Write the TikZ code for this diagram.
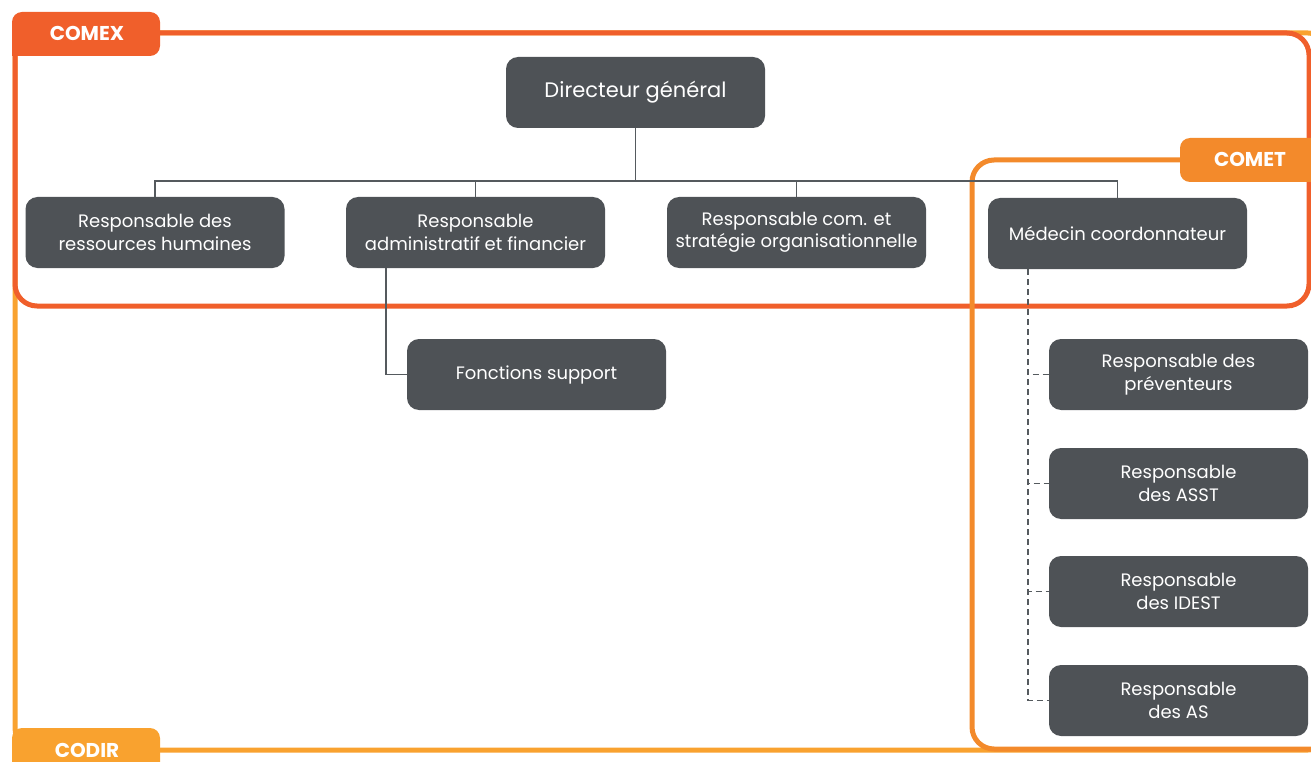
\documentclass[tikz,border=0pt]{standalone}
\usepackage{fontspec}
\setmainfont{Poppins}
\definecolor{nodegray}{HTML}{4E5256}
\definecolor{linegray}{HTML}{555A5E}
\definecolor{comexc}{HTML}{F05F2B}
\definecolor{cometc}{HTML}{F38A2B}
\definecolor{codirc}{HTML}{F9A22F}
\tikzset{
  orgbox/.style={fill=nodegray, rounded corners=12pt, minimum width=259pt, minimum height=71pt,
    inner sep=0pt, text=white, align=center, font=\fontsize{18}{22.5}\selectfont},
  conn/.style={draw=linegray, line width=1.6pt},
  dconn/.style={draw=linegray, line width=1.6pt, dash pattern=on 6pt off 4pt},
  frame/.style={line width=5pt, rounded corners=22pt},
  tablabel/.style={text=white, anchor=base, inner sep=0pt, font=\fontsize{20}{24}\selectfont\bfseries}
}
\begin{document}
\begin{tikzpicture}[x=1pt,y=-1pt]
\useasboundingbox (0,0) rectangle (1311,762);
\clip (0,0) rectangle (1311,762);
% CODIR frame
\draw[frame, draw=codirc] (15,33) rectangle (1330,750);
\fill[codirc, rounded corners=10pt] (12,728) rectangle (160,790);
\node[tablabel] (codir) at (87,757) {CODIR};
% COMEX frame
\draw[frame, draw=comexc] (15,33) rectangle (1309,306);
\fill[comexc, rounded corners=10pt] (12,12) rectangle (160,56);
\fill[comexc] (12,40) rectangle (30,56);
\node[tablabel] (comex) at (87,41) {COMEX};
% COMET frame
\draw[frame, draw=cometc] (972,160) rectangle (1340,749);
\fill[cometc, rounded corners=10pt] (1180,138) rectangle (1340,182);
\node[tablabel] (comet) at (1250,167) {COMET};
% nodes
\node[orgbox, font=\fontsize{21}{24}\selectfont] (dg) at (635.5,92.5) {Directeur général};
\node[orgbox] (rh) at (155,232.5) {Responsable des\\ressources humaines};
\node[orgbox] (raf) at (475.5,232.5) {Responsable\\administratif et financier};
\node[orgbox] (com) at (796.5,232.5) {Responsable com. et\\stratégie organisationnelle};
\node[orgbox] (med) at (1117.5,233.5) {Médecin coordonnateur};
\node[orgbox] (fs) at (536.5,374.5) {Fonctions support};
\node[orgbox] (prev) at (1178.5,374.5) {Responsable des\\préventeurs};
\node[orgbox] (asst) at (1178.5,483.5) {Responsable\\des ASST};
\node[orgbox] (idest) at (1178.5,591.5) {Responsable\\des IDEST};
\node[orgbox] (as) at (1178.5,700.5) {Responsable\\des AS};
% connectors
\coordinate (bus) at (635.5,181);
\draw[conn] (dg.south) -- (bus);
\draw[conn] (rh.north) |- (bus);
\draw[conn] (raf.north) |- (bus);
\draw[conn] (com.north) |- (bus);
\draw[conn] (med.north) |- (bus);
\draw[conn] ([xshift=40pt]raf.south west) |- (fs.west);
\draw[dconn] ([xshift=40pt]med.south west) |- (prev.west);
\draw[dconn] ([xshift=40pt]med.south west) |- (asst.west);
\draw[dconn] ([xshift=40pt]med.south west) |- (idest.west);
\draw[dconn] ([xshift=40pt]med.south west) |- (as.west);
\end{tikzpicture}
\end{document}
